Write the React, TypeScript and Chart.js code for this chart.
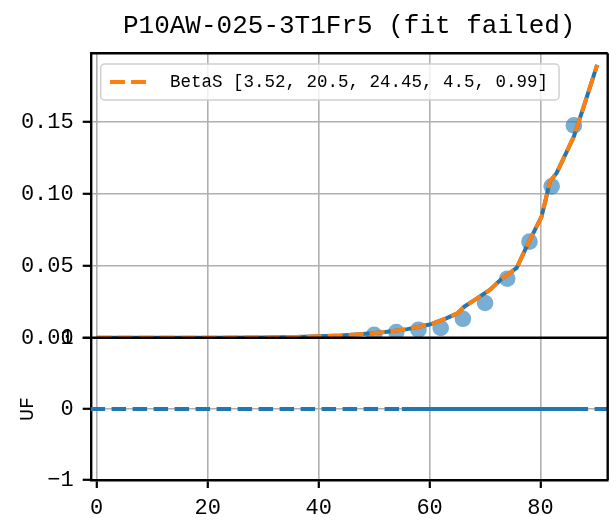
import React, { useEffect, useRef } from 'react';
import { Chart, registerables } from 'chart.js';

Chart.register(...registerables);

const MONO = '"Liberation Mono", "DejaVu Sans Mono", monospace';
Chart.defaults.font.family = MONO;
Chart.defaults.color = '#000';

// ---- text ----
const TITLE = 'P10AW-025-3T1Fr5 (fit failed)';
const LEGEND_LABEL = 'BetaS [3.52, 20.5, 24.45, 4.5, 0.99]';
const RESID_LABEL = 'UF';

// ---- data ----
const pointX = [50, 54, 58, 62, 66, 70, 74, 78, 82, 86];
const pointY = [0.0021, 0.004, 0.0056, 0.0068, 0.0132, 0.0242, 0.0411, 0.0669, 0.1054, 0.1478];

const curveX = [0, 10, 20, 30, 36, 40, 44, 48, 52, 56, 60, 63, 65, 66.3, 68, 70.9, 72.8, 75.7, 77.5, 80.2, 81.7, 82.9, 84, 86, 87.6, 90.2];
const curveY = [0, 0, 0, 0.0002, 0.0006, 0.001, 0.0016, 0.0026, 0.004, 0.006, 0.0092, 0.0135, 0.017, 0.0218, 0.026, 0.0334, 0.0404, 0.0486, 0.0636, 0.0845, 0.1089, 0.1147, 0.1237, 0.14, 0.1588, 0.19];

const residX = [55, 60, 65, 70, 75, 80, 85, 88];
const residY = [0, 0, 0, 0, 0, 0, 0, 0];

const zeroX = [-1.1, 92.2];
const zeroY = [0, 0];

const xTicks = [0, 20, 40, 60, 80];
const topTicks = [0, 0.05, 0.1, 0.15];
const bottomTicks = [-1, 0, 1];

const X_MIN = -1.08;
const X_MAX = 92.1;
const TOP_MIN = 0;
const TOP_MAX = 0.198;
const BOT_MIN = -1;
const BOT_MAX = 1;

// ---- styles ----
const BLUE = '#1f77b4';
const ORANGE = '#ff7f0e';
const GRID = '#b0b0b0';

const toXY = (xs: number[], ys: number[]) => xs.map((x, i) => ({ x, y: ys[i] }));

const framePlugin = {
  id: 'frame',
  afterDatasetsDraw(chart: any) {
    const { ctx, chartArea } = chart;
    const y2 = chart.scales.y2;
    ctx.save();
    ctx.strokeStyle = '#000';
    ctx.lineWidth = 2.4;
    ctx.beginPath();
    ctx.moveTo(chartArea.left, chartArea.top);
    ctx.lineTo(chartArea.right, chartArea.top);
    ctx.moveTo(chartArea.right, chartArea.top);
    ctx.lineTo(chartArea.right, chartArea.bottom);
    ctx.moveTo(chartArea.left, y2.top);
    ctx.lineTo(chartArea.right, y2.top);
    ctx.stroke();
    ctx.restore();
  },
};

const legendPlugin = {
  id: 'boxLegend',
  afterDraw(chart: any) {
    const { ctx, chartArea } = chart;
    ctx.save();
    ctx.font = '17.5px ' + MONO;
    const left = chartArea.left + 10;
    const top = chartArea.top + 10.7;
    const h = 36;
    const textX = left + 69.3;
    const textW = ctx.measureText(LEGEND_LABEL).width;
    const w = textX - left + textW + 11;
    const r = 4;
    ctx.beginPath();
    ctx.moveTo(left + r, top);
    ctx.lineTo(left + w - r, top);
    ctx.arcTo(left + w, top, left + w, top + r, r);
    ctx.lineTo(left + w, top + h - r);
    ctx.arcTo(left + w, top + h, left + w - r, top + h, r);
    ctx.lineTo(left + r, top + h);
    ctx.arcTo(left, top + h, left, top + h - r, r);
    ctx.lineTo(left, top + r);
    ctx.arcTo(left, top, left + r, top, r);
    ctx.closePath();
    ctx.fillStyle = 'rgba(255,255,255,0.8)';
    ctx.fill();
    ctx.strokeStyle = '#d0d0d0';
    ctx.lineWidth = 1.5;
    ctx.stroke();

    const cy = top + h / 2;
    ctx.beginPath();
    ctx.setLineDash([15, 6]);
    ctx.strokeStyle = ORANGE;
    ctx.lineWidth = 4;
    ctx.moveTo(left + 9.3, cy);
    ctx.lineTo(left + 9.3 + 42, cy);
    ctx.stroke();
    ctx.setLineDash([]);

    ctx.fillStyle = '#000';
    ctx.textBaseline = 'middle';
    ctx.textAlign = 'left';
    ctx.fillText(LEGEND_LABEL, textX, cy);
    ctx.restore();
  },
};

const gridOpts = {
  color: GRID,
  lineWidth: 1.6,
  tickColor: '#000',
  tickLength: 8,
  tickWidth: 2.2,
};
const borderOpts = { color: '#000', width: 2.4 };

export default function App() {
  const ref = useRef<HTMLCanvasElement>(null);

  useEffect(() => {
    const canvas = ref.current;
    if (!canvas) return;
    const chart = new Chart(canvas, {
      type: 'scatter',
      data: {
        datasets: [
          {
            label: 'fit',
            data: toXY(curveX, curveY),
            yAxisID: 'y',
            showLine: true,
            borderColor: ORANGE,
            backgroundColor: ORANGE,
            borderWidth: 4,
            borderDash: [15, 6],
            pointRadius: 0,
            fill: false,
            clip: 0,
            order: 0,
          },
          {
            label: 'model',
            data: toXY(curveX, curveY),
            yAxisID: 'y',
            showLine: true,
            borderColor: BLUE,
            backgroundColor: BLUE,
            borderWidth: 4,
            pointRadius: 0,
            fill: false,
            clip: 0,
            order: 1,
          },
          {
            label: 'data',
            data: toXY(pointX, pointY),
            yAxisID: 'y',
            showLine: false,
            pointRadius: 8.3,
            pointBorderWidth: 0,
            pointBackgroundColor: 'rgba(31,119,180,0.6)',
            backgroundColor: 'rgba(31,119,180,0.6)',
            borderColor: 'rgba(0,0,0,0)',
            clip: 0,
            order: 2,
          },
          {
            label: 'resid',
            data: toXY(residX, residY),
            yAxisID: 'y2',
            showLine: true,
            borderColor: BLUE,
            borderWidth: 4,
            pointRadius: 0,
            fill: false,
            clip: 0,
            order: 3,
          },
          {
            label: 'zero',
            data: toXY(zeroX, zeroY),
            yAxisID: 'y2',
            showLine: true,
            borderColor: BLUE,
            borderWidth: 4,
            borderDash: [14.5, 6.5],
            pointRadius: 0,
            fill: false,
            clip: 0,
            order: 4,
          },
        ],
      },
      options: {
        animation: false,
        responsive: false,
        devicePixelRatio: 1,
        events: [],
        layout: { padding: { left: 0, right: 1, top: 0, bottom: 0 } },
        plugins: {
          legend: { display: false },
          tooltip: { enabled: false },
          title: {
            display: true,
            fullSize: false,
            text: TITLE,
            color: '#000',
            font: { family: MONO, size: 26, weight: 'normal', lineHeight: 1.2 },
            padding: { top: 11, bottom: 11.1 },
          },
        },
        scales: {
          x: {
            type: 'linear',
            min: X_MIN,
            max: X_MAX,
            afterBuildTicks: (s: any) => {
              s.ticks = xTicks.map((v) => ({ value: v }));
            },
            afterFit: (s: any) => {
              s.height = 42;
            },
            grid: gridOpts,
            border: borderOpts,
            ticks: {
              color: '#000',
              font: { size: 22 },
              padding: 7,
              maxRotation: 0,
              callback: (v: any) => String(v),
            },
          },
          y2: {
            type: 'linear',
            position: 'left',
            stack: 'v',
            stackWeight: 1,
            offset: false,
            min: BOT_MIN,
            max: BOT_MAX,
            afterBuildTicks: (s: any) => {
              s.ticks = bottomTicks.map((v) => ({ value: v }));
            },
            afterFit: (s: any) => {
              s.width = 90.7;
            },
            grid: gridOpts,
            border: borderOpts,
            title: {
              display: true,
              text: RESID_LABEL,
              color: '#000',
              font: { size: 20 },
              padding: { top: 16, bottom: 0 },
            },
            ticks: {
              color: '#000',
              font: { size: 22 },
              padding: 9,
              callback: (v: any) => (Number(v) < 0 ? '\u2212' + Math.abs(Number(v)) : String(v)),
            },
          },
          y: {
            type: 'linear',
            position: 'left',
            stack: 'v',
            stackWeight: 2,
            offset: false,
            min: TOP_MIN,
            max: TOP_MAX,
            afterBuildTicks: (s: any) => {
              s.ticks = topTicks.map((v) => ({ value: v }));
            },
            afterFit: (s: any) => {
              s.width = 90.7;
            },
            grid: gridOpts,
            border: borderOpts,
            ticks: {
              color: '#000',
              font: { size: 22 },
              padding: 9,
              callback: (v: any) => Number(v).toFixed(2),
            },
          },
        },
      },
      plugins: [framePlugin, legendPlugin],
    } as any);
    return () => chart.destroy();
  }, []);

  return (
    <div style={{ position: 'absolute', left: 0, top: 0, width: 616, height: 522, background: '#fff' }}>
      <canvas ref={ref} width={616} height={522} style={{ display: 'block', width: 616, height: 522 }} />
    </div>
  );
}
